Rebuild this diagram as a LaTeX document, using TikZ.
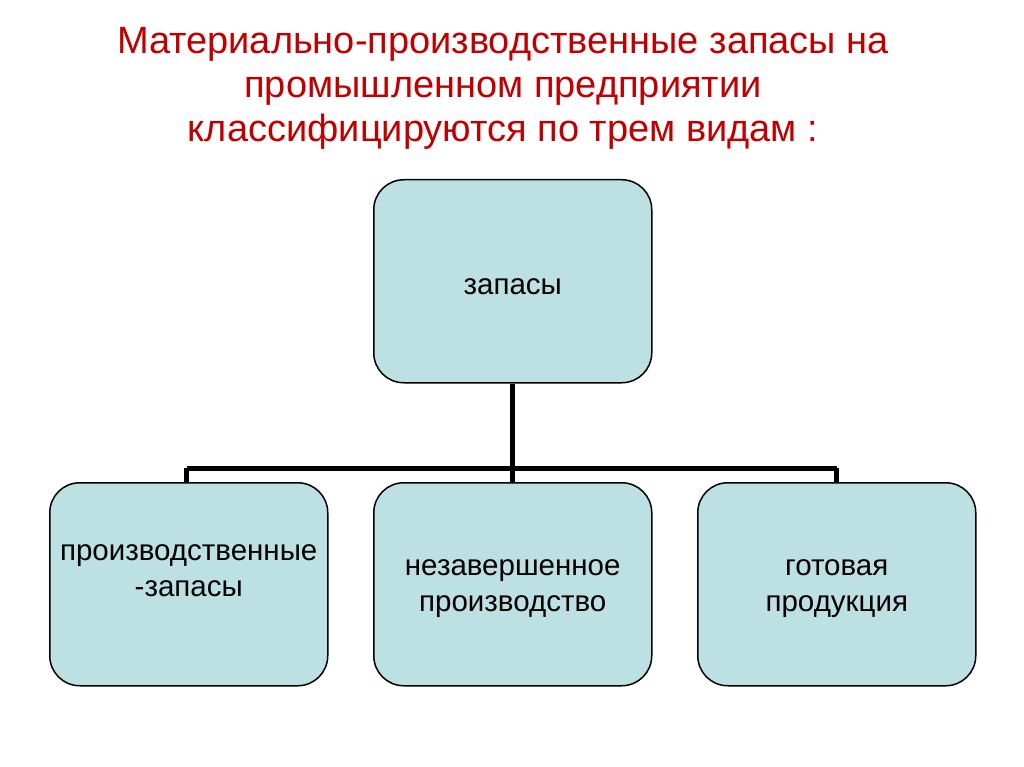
\documentclass[tikz,border=0pt]{standalone}
\usepackage{fontspec}
\setmainfont{Liberation Sans}
\definecolor{titlered}{HTML}{C00000}
\definecolor{boxfill}{HTML}{BDE0E3}
\tikzset{
  box/.style={draw=black, line width=1.5pt, fill=boxfill, rounded corners=30pt,
    minimum width=278pt, minimum height=203pt, inner sep=0pt, anchor=north west},
  boxtext/.style={font=\fontsize{29.5}{36}\selectfont, align=center, inner sep=0pt},
  link/.style={draw=black, line width=5pt},
  title/.style={text=titlered, font=\fontsize{38}{44}\selectfont, align=center}
}
\begin{document}
\begin{tikzpicture}[x=1pt,y=-1pt]
\useasboundingbox (0,0) rectangle (1024,767);
\node[title] (t) at (503,88) {Материально-производственные запасы на\\промышленном предприятии\\классифицируются по трем видам :};
\node[box] (top) at (373,179) {};
\node[box] (b1) at (49,482) {};
\node[box] (b2) at (373,482) {};
\node[box] (b3) at (697,482) {};
\node[boxtext] (l0) at ([yshift=-5pt]top.center) {запасы};
\node[boxtext] (l1) at ([yshift=14pt]b1.center) {производственные\\-запасы};
\node[boxtext] (l2) at ([yshift=-4pt]b2.center) {незавершенное\\производство};
\node[boxtext] (l3) at ([yshift=-4pt]b3.center) {готовая\\продукция};
\coordinate (j) at (top.south |- 0,468);
\draw[link] (top.south) -- (j);
\draw[link] ([xshift=-326pt]j) -- ([xshift=324pt]j);
\draw[link] ([xshift=-326pt]j) -- ([xshift=-326pt]j |- b1.north);
\draw[link] (j) -- (b2.north);
\draw[link] ([xshift=324pt]j) -- ([xshift=324pt]j |- b3.north);
\end{tikzpicture}
\end{document}
